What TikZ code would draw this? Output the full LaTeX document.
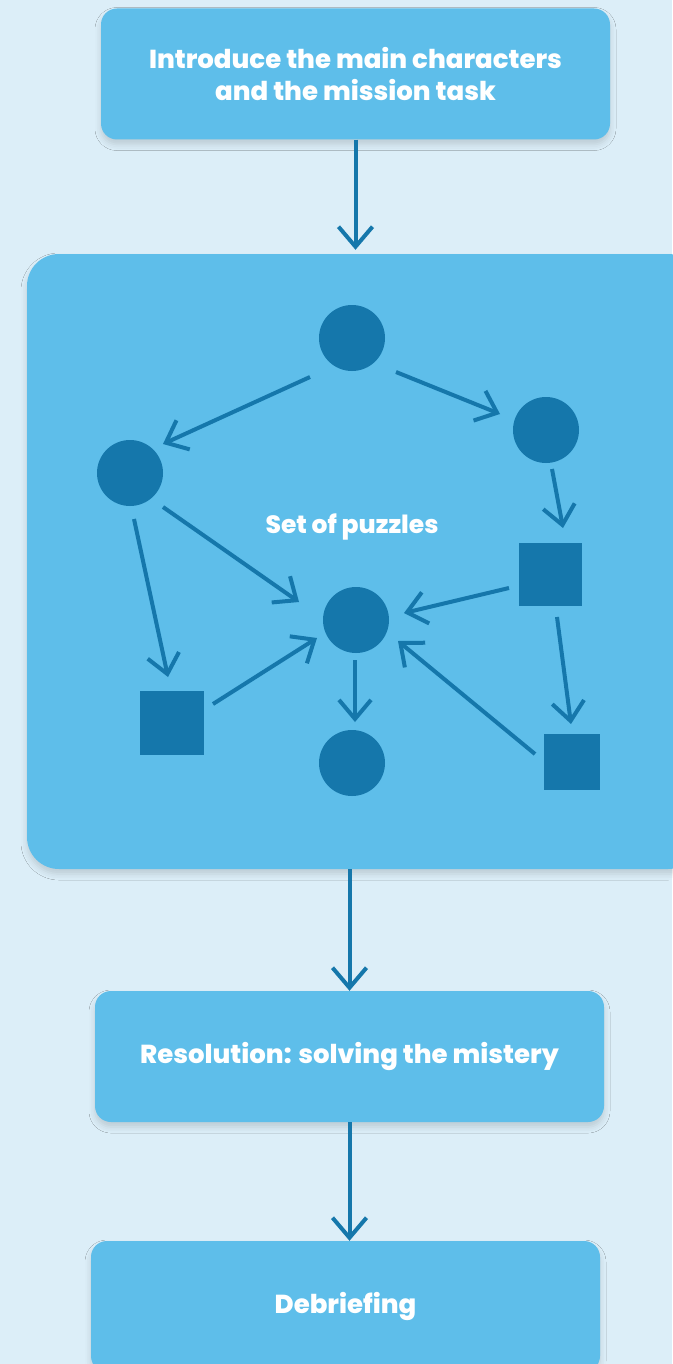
\documentclass[tikz,border=0pt]{standalone}
\usepackage{fontspec}
\setmainfont{Poppins}[BoldFont={Poppins ExtraBold}]
\usetikzlibrary{arrows.meta,shadows.blur}
\definecolor{bgblue}{HTML}{DCEEF8}
\definecolor{boxblue}{HTML}{5EBEEA}
\definecolor{deepblue}{HTML}{1577AB}
\begin{document}
\begin{tikzpicture}[x=1pt,y=-1pt,
  stage/.style={draw=none,fill=boxblue,rounded corners=16pt,minimum width=509pt,minimum height=131pt,
    text=white,font=\bfseries\fontsize{26}{32}\selectfont,align=center,inner sep=0pt,
    blur shadow={shadow xshift=0pt,shadow yshift=-5pt,shadow blur radius=6pt,shadow opacity=14}},
  hub/.style={circle,fill=deepblue,draw=none,minimum size=66pt,inner sep=0pt},
  blk/.style={rectangle,fill=deepblue,draw=none,inner sep=0pt},
  flow/.style={draw=deepblue,line width=4pt,-{Straight Barb[length=20pt,width=34pt]}},
  link/.style={draw=deepblue,line width=4pt,-{Straight Barb[length=19pt,width=32pt]}}
]
% page background
\path[use as bounding box,fill=bgblue] (0,0) rectangle (672,1364);

% main stages
\node[stage] (intro) at (355.5,74) {Introduce the main characters\\and the mission task};
\node[stage,rounded corners=32pt,minimum width=673pt,minimum height=615pt] (puzzles) at (363.5,561.5) {};
\node[stage] (resol) at (349.5,1056.5) {\raisebox{-3pt}{Resolution: solving the mistery}};
\node[stage] (debrief) at (345.5,1306.5) {\raisebox{-2pt}{Debriefing}};

\node[text=white,font=\bfseries\fontsize{25}{28}\selectfont] (ptitle) at (352,527) {Set of puzzles};

% puzzle graph
\node[hub] (c1) at (352,338) {};
\node[hub] (c2) at (130,473) {};
\node[hub] (c3) at (546,430) {};
\node[hub] (c4) at (356,620) {};
\node[hub] (c5) at (352,763) {};
\node[blk,minimum size=64pt] (s1) at (172,723) {};
\node[blk,minimum size=63pt] (s2) at (550.5,574.5) {};
\node[blk,minimum size=56pt] (s3) at (572,762) {};

\draw[link] ([shift={(-42,39)}]c1.center) -- ([shift={(33,-29)}]c2.center);
\draw[link] ([shift={(44,34)}]c1.center) -- ([shift={(-46,-16)}]c3.center);
\draw[link] ([shift={(6,39)}]c3.center) -- ([shift={(12.5,-46.5)}]s2.center);
\draw[link] ([shift={(4,46)}]c2.center) -- ([shift={(-4,-46)}]s1.center);
\draw[link] ([shift={(33,34)}]c2.center) -- ([shift={(-57,-18)}]c4.center);
\draw[link] ([shift={(41,-19)}]s1.center) -- ([shift={(-39,18)}]c4.center);
\draw[link] ([shift={(-41.5,13.5)}]s2.center) -- ([shift={(48,-7)}]c4.center);
\draw[link] ([shift={(-37,-8)}]s3.center) -- ([shift={(42,21)}]c4.center);
\draw[link] ([shift={(-1,40)}]c4.center) -- ([shift={(3,-41)}]c5.center);
\draw[link] ([shift={(6.5,42.5)}]s2.center) -- ([shift={(-1,-38)}]s3.center);

% stage connectors
\draw[flow,shorten >=4pt] (intro.south) -- (intro.south |- puzzles.north);
\draw[flow] (resol.north |- puzzles.south) -- (resol.north);
\draw[flow] (resol.south) -- (resol.south |- debrief.north);
\end{tikzpicture}
\end{document}
